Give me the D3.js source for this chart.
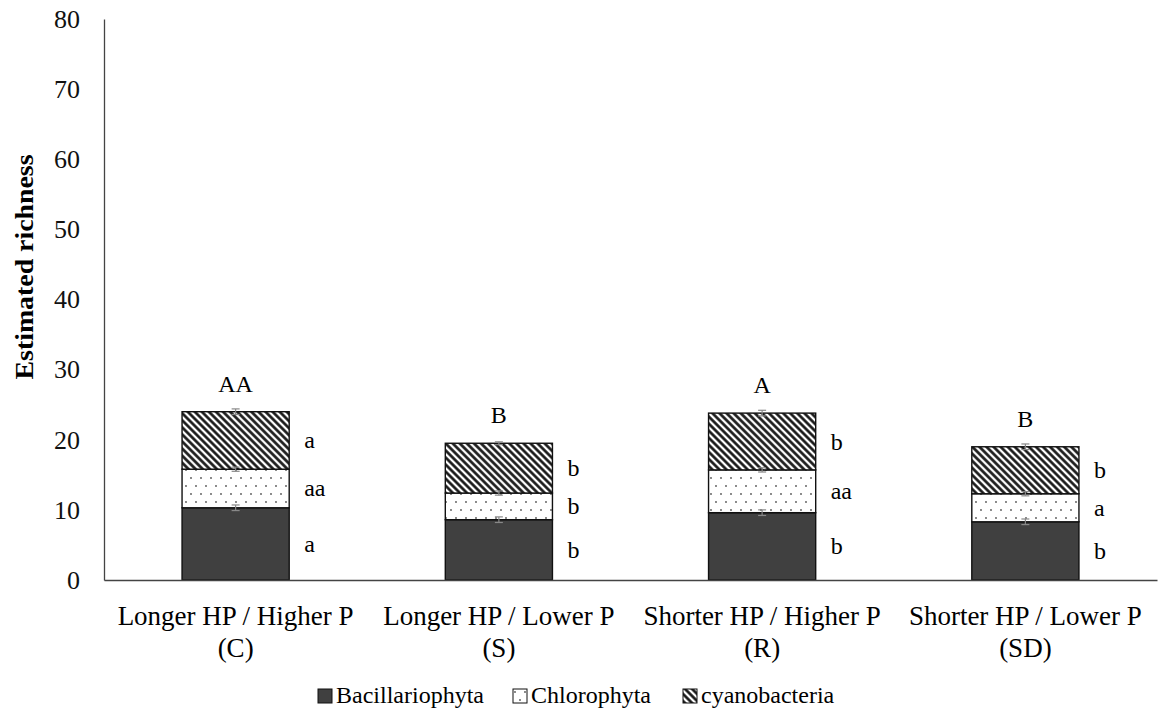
<!DOCTYPE html>
<html>
<head>
<meta charset="utf-8">
<script src="https://cdn.jsdelivr.net/npm/d3@7"></script>
<style>
  body { margin: 0; background: #fff; }
</style>
</head>
<body>
<svg id="chart"></svg>
<script>
// data
var categories = ["Longer HP / Higher P|(C)", "Longer HP / Lower P|(S)", "Shorter HP / Higher P|(R)", "Shorter HP / Lower P|(SD)"];
var seriesNames = ["Bacillariophyta", "Chlorophyta", "cyanobacteria"];
var bacillariophyta = [10.3, 8.6, 9.6, 8.3];
var chlorophyta = [5.5, 3.8, 6.1, 4.0];
var cyanobacteria = [8.2, 7.1, 8.1, 6.7];
var errBac = [0.4, 0.4, 0.4, 0.4];
var errChl = [0.3, 0.3, 0.3, 0.3];
var errCya = [0.4, 0.2, 0.4, 0.4];
var topLetters = ["AA", "B", "A", "B"];
var letterBac = ["a", "b", "b", "b"];
var letterChl = ["aa", "b", "aa", "a"];
var letterCya = ["a", "b", "b", "b"];
var yTicks = [0, 10, 20, 30, 40, 50, 60, 70, 80];

var W = 1159, H = 715;
var margin = {top: 19, right: 2, bottom: 135, left: 104};
var width = W - margin.left - margin.right,
    height = H - margin.top - margin.bottom;
var FONT = "'Liberation Serif'";

var svg = d3.select("#chart").attr("width", W).attr("height", H);

// patterns
var defs = svg.append("defs");
var dots = defs.append("pattern")
  .attr("id", "dots")
  .attr("patternUnits", "userSpaceOnUse")
  .attr("width", 10).attr("height", 16);
dots.append("rect").attr("width", 10).attr("height", 16).attr("fill", "#fff");
dots.append("circle").attr("cx", 2).attr("cy", 3).attr("r", 0.9).attr("fill", "#555");
dots.append("circle").attr("cx", 7).attr("cy", 11).attr("r", 0.9).attr("fill", "#555");

var hatch = defs.append("pattern")
  .attr("id", "hatch")
  .attr("patternUnits", "userSpaceOnUse")
  .attr("width", 5).attr("height", 10)
  .attr("patternTransform", "rotate(-45)");
hatch.append("rect").attr("width", 5).attr("height", 10).attr("fill", "#fff");
hatch.append("line").attr("x1", 1.5).attr("y1", 0).attr("x2", 1.5).attr("y2", 10)
  .attr("stroke", "#111").attr("stroke-width", 2.6);

var fills = ["#404040", "url(#dots)", "url(#hatch)"];

var g = svg.append("g").attr("transform", "translate(" + margin.left + "," + margin.top + ")");

var x = d3.scaleBand().domain(categories).range([0, width]).paddingInner(0.593).paddingOuter(0.2965);
var y = d3.scaleLinear().domain([0, 80]).range([height, 0]);

// build stacked table
var table = categories.map(function(c, i) {
  return {cat: c, Bacillariophyta: bacillariophyta[i], Chlorophyta: chlorophyta[i], cyanobacteria: cyanobacteria[i]};
});
var stacked = d3.stack().keys(seriesNames)(table);
var errs = [errBac, errChl, errCya];
var letters = [letterBac, letterChl, letterCya];

// y axis
var yAxis = d3.axisLeft(y).tickValues(yTicks).tickSize(0).tickPadding(24);
var ya = g.append("g").call(yAxis);
ya.select(".domain").attr("stroke", "#444").attr("stroke-width", 1.3);
ya.selectAll("text").style("font-size", "26px").style("font-family", FONT).attr("fill", "#111");

// bars
stacked.forEach(function(s, si) {
  g.append("g").selectAll("rect").data(s).enter().append("rect")
    .attr("x", function(d) { return x(d.data.cat); })
    .attr("y", function(d) { return y(d[1]); })
    .attr("width", x.bandwidth())
    .attr("height", function(d) { return y(d[0]) - y(d[1]); })
    .attr("fill", fills[si])
    .attr("stroke", "#111")
    .attr("stroke-width", 1.4);
});

// error bars
stacked.forEach(function(s, si) {
  var eg = g.append("g").attr("stroke", "#888").attr("stroke-width", 1.2);
  s.forEach(function(d, i) {
    var cx = x(d.data.cat) + x.bandwidth() / 2;
    var e = errs[si][i];
    eg.append("line").attr("x1", cx).attr("x2", cx).attr("y1", y(d[1] + e)).attr("y2", y(d[1] - e));
    eg.append("line").attr("x1", cx - 4).attr("x2", cx + 4).attr("y1", y(d[1] + e)).attr("y2", y(d[1] + e));
    eg.append("line").attr("x1", cx - 4).attr("x2", cx + 4).attr("y1", y(d[1] - e)).attr("y2", y(d[1] - e));
  });
});

// segment letters
stacked.forEach(function(s, si) {
  g.append("g").selectAll("text").data(s).enter().append("text")
    .attr("x", function(d) { return x(d.data.cat) + x.bandwidth() + 15; })
    .attr("y", function(d) { return (y(d[0]) + y(d[1])) / 2 + 8; })
    .style("font-size", "24px")
    .style("font-family", FONT)
    .text(function(d, i) { return letters[si][i]; });
});

// top letters
g.append("g").selectAll("text").data(stacked[2]).enter().append("text")
  .attr("x", function(d) { return x(d.data.cat) + x.bandwidth() / 2; })
  .attr("y", function(d) { return y(d[1]) - 20; })
  .attr("text-anchor", "middle")
  .style("font-size", "24px")
  .style("font-family", FONT)
  .text(function(d, i) { return topLetters[i]; });

// x axis
var xAxis = d3.axisBottom(x).tickSize(0).tickFormat("");
var xa = g.append("g").attr("transform", "translate(0," + height + ")").call(xAxis);
xa.select(".domain").attr("stroke", "#444").attr("stroke-width", 1.3);
categories.forEach(function(c) {
  var parts = c.split("|");
  var cx = x(c) + x.bandwidth() / 2;
  var t = g.append("text")
    .attr("x", cx)
    .attr("y", height + 45)
    .attr("text-anchor", "middle")
    .style("font-size", "27px")
    .style("font-family", FONT);
  t.append("tspan").attr("x", cx).text(parts[0]);
  t.append("tspan").attr("x", cx).attr("dy", 32).text(parts[1]);
});

// y title
svg.append("text")
  .attr("transform", "translate(33,267) rotate(-90)")
  .attr("text-anchor", "middle")
  .attr("textLength", 225)
  .attr("lengthAdjust", "spacingAndGlyphs")
  .style("font-size", "25px")
  .style("font-weight", "bold")
  .style("font-family", FONT)
  .text("Estimated richness");

// legend
var legendX = [318, 513, 683];
var legend = svg.append("g").selectAll("g").data(seriesNames).enter().append("g")
  .attr("transform", function(d, i) { return "translate(" + legendX[i] + ",689)"; });
legend.append("rect")
  .attr("width", 14).attr("height", 14)
  .attr("fill", function(d, i) { return fills[i]; })
  .attr("stroke", "#111").attr("stroke-width", 1);
legend.append("text")
  .attr("x", 18).attr("y", 14)
  .style("font-size", "24px")
  .style("font-family", FONT)
  .text(function(d) { return d; });
</script>
</body>
</html>
